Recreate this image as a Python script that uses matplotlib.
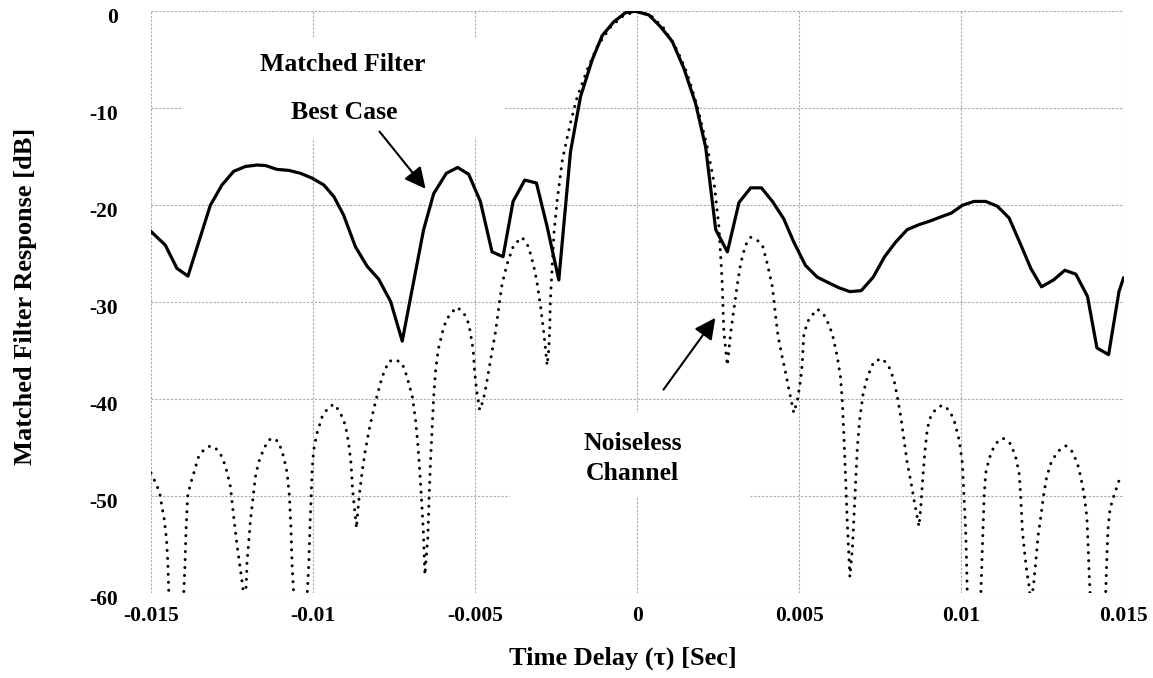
import numpy as np
import matplotlib
matplotlib.use('Agg')
import matplotlib.pyplot as plt
import matplotlib.transforms as mtransforms
from matplotlib.patches import Rectangle

plt.rcParams['font.family'] = ['Liberation Serif', 'DejaVu Serif']
plt.rcParams['font.weight'] = 'bold'
plt.rcParams['axes.unicode_minus'] = False

# time delay in ms (converted to seconds below), response in dB
t_best_ms = [-15.0, -14.56, -14.20, -13.86, -13.17, -12.81, -12.45, -12.09, -11.73,
             -11.47, -11.11, -10.75, -10.39, -10.03, -9.67, -9.36, -9.06, -8.69,
             -8.33, -7.98, -7.61, -7.25, -6.59, -6.28, -5.89, -5.54, -5.20, -4.84,
             -4.48, -4.14, -3.83, -3.47, -3.11, -2.78, -2.42, -2.06, -1.75, -1.39,
             -1.08, -0.72, -0.36, -0.05, 0.36, 0.72, 1.08, 1.44, 1.80, 2.11, 2.42,
             2.78, 3.14, 3.50, 3.83, 4.17, 4.52, 4.83, 5.19, 5.55, 5.91, 6.22, 6.56,
             6.91, 7.28, 7.63, 7.97, 8.33, 8.69, 9.05, 9.36, 9.69, 10.03, 10.39,
             10.75, 11.11, 11.47, 11.81, 12.14, 12.47, 12.84, 13.19, 13.53, 13.89,
             14.18, 14.54, 14.86, 15.0]
db_best = [-22.7, -24.1, -26.5, -27.3, -20.0, -17.9, -16.5, -16.0, -15.85,
           -15.9, -16.3, -16.4, -16.7, -17.2, -17.9, -19.1, -21.0, -24.3,
           -26.3, -27.6, -29.9, -34.0, -22.5, -18.8, -16.7, -16.1, -16.8, -19.6,
           -24.8, -25.3, -19.6, -17.4, -17.7, -22.2, -27.7, -14.5, -8.8, -5.0,
           -2.5, -1.07, -0.14, 0.0, -0.38, -1.6, -3.1, -5.9, -9.5, -14.0, -22.5,
           -24.8, -19.7, -18.2, -18.2, -19.6, -21.4, -23.8, -26.2, -27.4, -28.0,
           -28.5, -28.9, -28.8, -27.4, -25.3, -23.8, -22.5, -22.0, -21.6, -21.2,
           -20.8, -20.0, -19.6, -19.6, -20.1, -21.3, -23.9, -26.5, -28.4, -27.7,
           -26.7, -27.1, -29.4, -34.7, -35.4, -28.9, -27.5]

t_noiseless_ms = [-15.0, -14.83, -14.73, -14.66, -14.59, -14.52, -14.48, -14.45, -14.22,
                  -13.99, -13.95, -13.92, -13.87, -13.78, -13.68, -13.53, -13.37, -13.17,
                  -13.02, -12.86, -12.70, -12.55, -12.45, -12.34, -12.24, -12.17, -12.11,
                  -12.06, -12.04, -11.99, -11.93, -11.85, -11.78, -11.68, -11.52, -11.37,
                  -11.23, -11.06, -10.91, -10.80, -10.73, -10.68, -10.65, -10.60, -10.40,
                  -10.18, -10.13, -10.10, -10.06, -10.03, -9.98, -9.88, -9.72, -9.52,
                  -9.34, -9.16, -9.00, -8.90, -8.83, -8.78, -8.72, -8.66, -8.62, -8.56,
                  -8.49, -8.40, -8.28, -8.15, -8.00, -7.87, -7.67, -7.46, -7.25, -7.10,
                  -6.94, -6.84, -6.77, -6.71, -6.66, -6.60, -6.55, -6.46, -6.42, -6.38,
                  -6.33, -6.28, -6.22, -6.14, -6.02, -5.89, -5.71, -5.56, -5.35, -5.20,
                  -5.14, -5.06, -5.02, -4.96, -4.86, -4.75, -4.65, -4.58, -4.47, -4.37,
                  -4.27, -4.17, -4.01, -3.81, -3.55, -3.35, -3.19, -3.09, -2.98, -2.88,
                  -2.78, -2.73, -2.70, -2.68, -2.57, -2.47, -2.31, -2.06, -1.85, -1.54,
                  -1.23, -0.82, -0.41, 0.0, 0.41, 0.82, 1.23, 1.54, 1.85, 2.16, 2.37,
                  2.52, 2.62, 2.67, 2.78, 2.88, 2.98, 3.09, 3.19, 3.34, 3.50, 3.70, 3.86,
                  4.01, 4.17, 4.27, 4.34, 4.47, 4.58, 4.68, 4.83, 4.94, 5.04, 5.09, 5.14,
                  5.30, 5.56, 5.76, 5.91, 6.02, 6.17, 6.27, 6.33, 6.38, 6.43, 6.48, 6.53,
                  6.56, 6.64, 6.69, 6.74, 6.79, 6.87, 6.97, 7.10, 7.30, 7.56, 7.76, 7.92,
                  8.02, 8.13, 8.23, 8.33, 8.43, 8.54, 8.69, 8.74, 8.80, 8.87, 8.95, 9.05,
                  9.21, 9.41, 9.62, 9.77, 9.93, 10.03, 10.08, 10.13, 10.16, 10.18, 10.40,
                  10.60, 10.63, 10.66, 10.70, 10.75, 10.85, 10.96, 11.11, 11.28, 11.52,
                  11.67, 11.78, 11.83, 11.88, 11.93, 12.01, 12.09, 12.13, 12.22, 12.29,
                  12.36, 12.45, 12.53, 12.63, 12.76, 12.96, 13.22, 13.42, 13.58, 13.68,
                  13.78, 13.87, 13.91, 13.94, 13.97, 14.21, 14.45, 14.48, 14.52, 14.58,
                  14.66, 14.76, 14.91]
db_noiseless = [-47.6, -48.8, -49.7, -51.1, -52.4, -54.5, -56.9, -60.0, -72.0,
                -60.0, -56.9, -53.5, -50.0, -48.7, -47.6, -45.9, -45.2, -44.8,
                -45.0, -45.6, -46.9, -49.0, -52.1, -55.2, -57.6, -59.3, -61.5,
                -59.0, -56.9, -54.9, -52.4, -50.0, -48.0, -46.5, -45.1, -44.2,
                -44.0, -44.4, -45.9, -47.6, -50.0, -53.5, -56.9, -60.0, -72.0,
                -60.0, -56.9, -53.5, -50.0, -47.3, -45.2, -43.5, -41.8, -40.8,
                -40.5, -41.4, -42.7, -44.6, -46.6, -49.4, -51.4, -53.3, -51.5, -49.5,
                -47.5, -45.5, -43.3, -41.3, -39.3, -37.7, -36.1, -35.9, -36.3, -37.7,
                -39.7, -42.1, -44.6, -47.3, -50.0, -53.5, -58.1, -54.2, -50.0, -46.6,
                -43.2, -39.7, -37.0, -34.9, -33.2, -31.8, -31.0, -30.5, -31.1, -32.2,
                -33.3, -34.9, -37.0, -39.0, -41.1, -40.1, -38.4, -37.0, -34.9, -33.0,
                -30.5, -28.1, -26.0, -24.1, -23.3, -24.3, -26.3, -28.0, -30.5, -33.2,
                -36.5, -34.9, -32.8, -29.8, -22.9, -19.5, -15.3, -11.5, -8.8, -6.0,
                -3.6, -1.6, -0.4, 0.0, -0.4, -1.75, -4.0, -6.4, -9.8, -14.0, -17.7,
                -22.2, -28.0, -33.0, -36.5, -33.2, -30.8, -28.1, -26.0, -24.1, -23.3, -23.6, -24.1,
                -26.0, -28.4, -31.5, -33.4, -35.6, -37.3, -39.0, -41.4, -40.1, -38.0, -36.3, -33.2,
                -31.7, -30.7, -31.3, -32.3, -33.3, -35.6, -37.7, -40.4, -44.2, -48.3, -52.8, -56.2,
                -58.3, -55.2, -51.8, -48.3, -44.9, -41.8, -39.4, -37.7, -36.1, -35.8, -36.6, -38.0,
                -39.7, -41.8, -44.2, -46.6, -48.3, -50.4, -53.1, -51.4, -48.5, -45.5, -43.0, -41.8,
                -41.0, -40.6, -41.1, -42.1, -44.2, -46.6, -50.0, -53.5, -56.9, -60.0, -72.0,
                -60.0, -56.9, -53.5, -50.0, -47.6, -46.2, -45.2, -44.4, -44.0, -44.6,
                -45.9, -47.6, -50.0, -53.5, -55.2, -57.6, -59.3, -61.0, -59.3, -56.9,
                -54.2, -52.1, -50.0, -48.0, -46.6, -45.4, -44.8, -45.4, -46.6, -48.0,
                -49.7, -52.1, -55.2, -57.9, -60.0, -72.0, -60.0, -56.9, -53.5, -51.4,
                -50.4, -49.4, -47.9]

x_ticks = [-0.015, -0.01, -0.005, 0, 0.005, 0.01, 0.015]
x_tick_labels = ['-0.015', '-0.01', '-0.005', '0', '0.005', '0.01', '0.015']
y_ticks = [-60, -50, -40, -30, -20, -10, 0]

t_best = np.array(t_best_ms) / 1000
t_noiseless = np.array(t_noiseless_ms) / 1000

fig = plt.figure(figsize=(11.53, 6.78), dpi=100)
ax = fig.add_axes([151 / 1153, 1 - 593.3 / 678, 972.5 / 1153, 582 / 678])

ax.plot(t_noiseless, db_noiseless, color='black', lw=2.2,
        linestyle=(0, (0.01, 2.6)), dash_capstyle='round', zorder=3)
ax.plot(t_best, db_best, color='black', lw=2.3, solid_joinstyle='round', zorder=4)

ax.set_xlim(-0.015, 0.015)
ax.set_ylim(-60, 0)
ax.set_xticks(x_ticks)
ax.set_xticklabels(x_tick_labels)
ax.set_yticks(y_ticks)
ax.set_axisbelow(True)
ax.grid(True, color='#a8a8a8', linestyle=(0, (2, 1.5)), linewidth=0.8)
for s in ax.spines.values():
    s.set_visible(False)
ax.tick_params(length=0, labelsize=15.5)
ax.tick_params(axis='x', pad=9)
ax.tick_params(axis='y', pad=24)
shift = mtransforms.ScaledTranslation(0, -3 / 72, fig.dpi_scale_trans)
for lab in ax.get_yticklabels():
    lab.set_transform(lab.get_transform() + shift)

ax.set_xlabel('Time Delay (τ) [Sec]', fontsize=19, fontweight='bold')
ax.set_ylabel('Matched Filter Response [dB]', fontsize=19, fontweight='bold')
ax.xaxis.set_label_coords(0.485, -0.092)
ax.yaxis.set_label_coords(-0.117, 0.51)

# white text boxes that hide the grid behind the labels
ax.add_patch(Rectangle((-0.0140, -13.1), 0.0099, 10.5, facecolor='white',
                       edgecolor='none', zorder=1))
ax.add_patch(Rectangle((-0.00394, -50.2), 0.00739, 8.8, facecolor='white',
                       edgecolor='none', zorder=1))

ax.text(-0.00908, -5.5, 'Matched Filter', ha='center', va='center',
        fontsize=18.5, fontweight='bold', zorder=5)
ax.text(-0.00903, -10.4, 'Best Case', ha='center', va='center',
        fontsize=18.5, fontweight='bold', zorder=5)
ax.annotate('', xy=(-0.00653, -18.3), xytext=(-0.00795, -12.4),
            arrowprops=dict(arrowstyle='-|>', color='black', lw=1.5,
                            mutation_scale=32, shrinkA=0, shrinkB=0), zorder=5)

ax.text(-0.00015, -46.1, 'Noiseless\nChannel', ha='center', va='center',
        fontsize=18.5, fontweight='bold', linespacing=1.35, zorder=5)
ax.annotate('', xy=(0.00241, -31.6), xytext=(0.00081, -39.0),
            arrowprops=dict(arrowstyle='-|>', color='black', lw=1.5,
                            mutation_scale=32, shrinkA=0, shrinkB=0), zorder=5)

fig.savefig('out.png', dpi=100)
